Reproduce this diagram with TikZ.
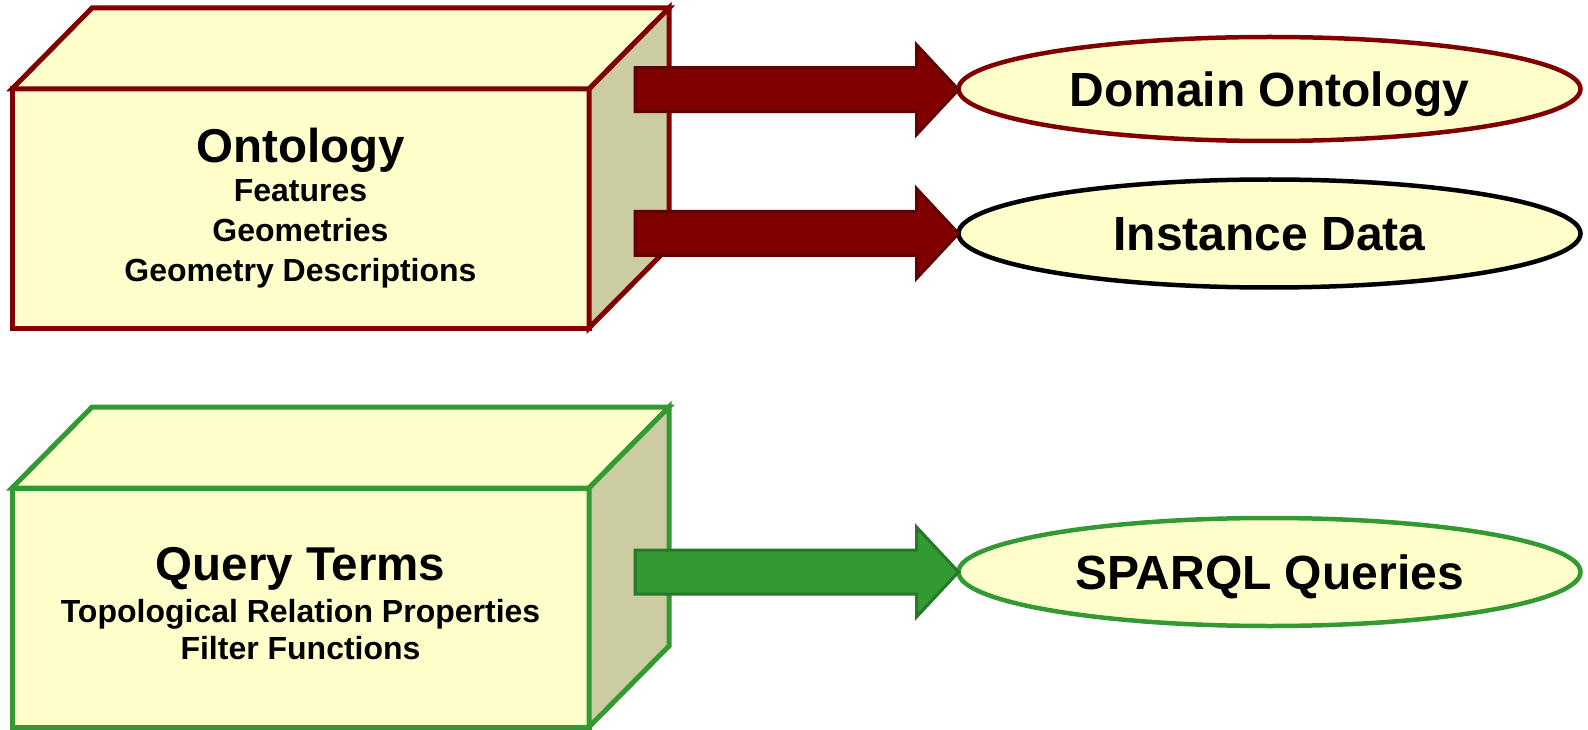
\documentclass[tikz,border=0pt]{standalone}
\usepackage{fontspec}
\setmainfont{Liberation Sans}
\usetikzlibrary{shapes.geometric,calc}

\definecolor{maroon}{RGB}{128,0,0}
\definecolor{maroondark}{RGB}{96,0,0}
\definecolor{cream}{RGB}{255,255,204}
\definecolor{khaki}{RGB}{204,204,163}
\definecolor{leaf}{RGB}{51,153,51}
\definecolor{leafdark}{RGB}{40,118,40}

\tikzset{
  frontface/.style={draw, line width=5pt, fill=cream, minimum width=577pt,
    minimum height=239pt, inner sep=0pt, outer sep=0pt},
  topface/.style={line width=5pt, fill=cream, line join=miter},
  sideface/.style={line width=5pt, fill=khaki, line join=miter},
  oval/.style={ellipse, draw, line width=4.5pt, fill=cream, minimum width=622pt,
    inner sep=0pt, outer sep=0pt, text height=34.5pt, text depth=0pt,
    font=\fontsize{48}{57}\selectfont\bfseries},
  boxtitle/.style={anchor=base, font=\fontsize{47.5}{56}\selectfont\bfseries},
  boxitem/.style={anchor=base, font=\fontsize{32}{38}\selectfont\bfseries},
  redarrow/.style={fill=maroon, draw=maroondark, line width=3pt, line join=miter},
  greenarrow/.style={fill=leaf, draw=leafdark, line width=3pt, line join=miter},
}

% block arrow from a start coordinate to the west side of a target node
\newcommand\blockarrow[3]{%
  \draw[#1] let \p1=(#2), \p2=(#3.west) in
    (\x1,\y1+22pt) -- (\x2-42pt,\y1+22pt) -- (\x2-42pt,\y1+45pt) -- (\x2,\y1)
    -- (\x2-42pt,\y1-45pt) -- (\x2-42pt,\y1-22pt) -- (\x1,\y1-22pt) -- cycle;}

\begin{document}
\begin{tikzpicture}[x=1pt,y=-1pt]
\useasboundingbox (0,0) rectangle (1588,730);

% ---- Ontology box ----
\node[frontface, draw=maroon] (ontf) at (300.5,208.5) {};
\draw[topface, draw=maroon] (ontf.north west) -- ++(80,-81)
  -- ([shift={(80,-81)}]ontf.north east) -- (ontf.north east) -- cycle;
\draw[sideface, draw=maroon] (ontf.north east) -- ++(80,-81) -- ++(0,239)
  -- (ontf.south east) -- cycle;
\node[boxtitle] (ontt) at (300.5,163) {Ontology};
\node[boxitem] (ont1) at (300.5,202) {Features};
\node[boxitem] (ont2) at (300.5,241.5) {Geometries};
\node[boxitem] (ont3) at (300.5,281) {Geometry Descriptions};

% ---- Query Terms box ----
\node[frontface, draw=leaf] (qf) at (300.5,607.5) {};
\draw[topface, draw=leaf] (qf.north west) -- ++(80,-81)
  -- ([shift={(80,-81)}]qf.north east) -- (qf.north east) -- cycle;
\draw[sideface, draw=leaf] (qf.north east) -- ++(80,-81) -- ++(0,239)
  -- (qf.south east) -- cycle;
\node[boxtitle] (qt) at (300.5,580) {Query Terms};
\node[boxitem] (q1) at (300.5,622) {Topological Relation Properties};
\node[boxitem] (q2) at (300.5,659) {Filter Functions};

% ---- result ellipses ----
\node[oval, draw=maroon, minimum height=104pt] (dom) at (1269.5,89) {Domain Ontology};
\node[oval, draw=black, minimum height=108pt] (inst) at (1269.5,233.5) {Instance Data};
\node[oval, draw=leaf, minimum height=108pt] (sparql) at (1269.5,572) {SPARQL Queries};

% ---- arrows ----
\coordinate (s1) at (635,89.7);
\coordinate (s2) at (635,233.5);
\coordinate (s3) at (635,572);
\blockarrow{redarrow}{s1}{dom}
\blockarrow{redarrow}{s2}{inst}
\blockarrow{greenarrow}{s3}{sparql}
\end{tikzpicture}
\end{document}
